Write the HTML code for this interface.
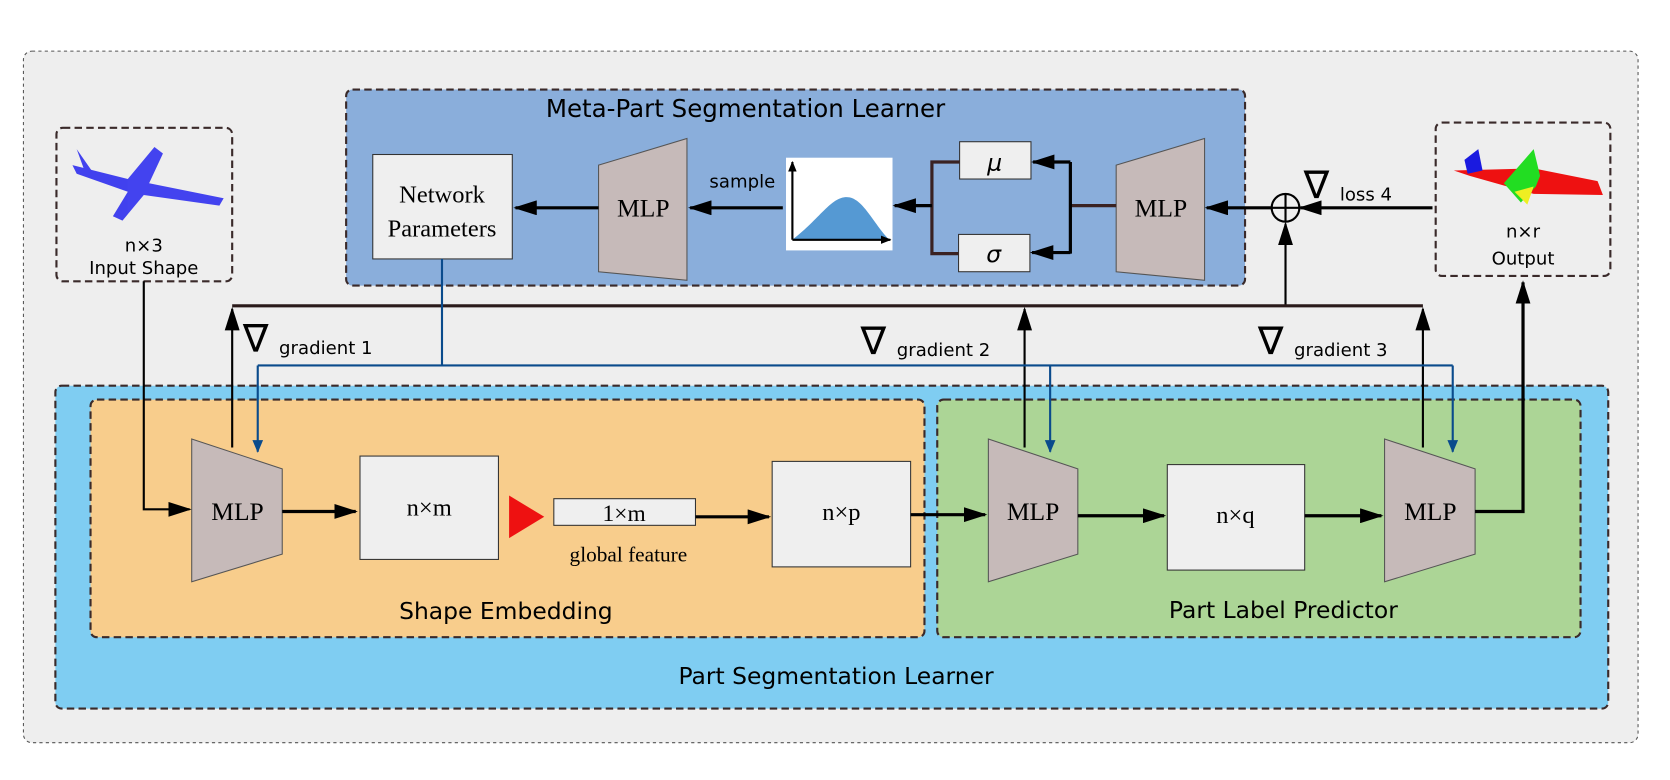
<!DOCTYPE html>
<html><head><meta charset="utf-8"><style>
html,body{margin:0;padding:0;background:#fff;width:1670px;height:780px;overflow:hidden}
svg text{font-family:"DejaVu Sans","Liberation Sans",sans-serif}
.serif{font-family:"Liberation Serif",serif}
</style></head><body>
<svg width="1670" height="780" viewBox="0 0 1568 732" preserveAspectRatio="none" xmlns="http://www.w3.org/2000/svg">
<defs>
<marker id="ab" markerWidth="10" markerHeight="8" refX="9" refY="4" orient="auto" markerUnits="userSpaceOnUse"><path d="M0,0 L10,4 L0,8 z" fill="#000"/></marker>
<marker id="ab2" markerWidth="22" markerHeight="14" refX="20" refY="7" orient="auto" markerUnits="userSpaceOnUse"><path d="M0,0 L22,7 L0,14 z" fill="#000"/></marker>
<marker id="abl" markerWidth="12" markerHeight="18" refX="11" refY="5" orient="auto" markerUnits="userSpaceOnUse"><path d="M0,0 L12,5 L0,10 z" fill="#0a4b8c"/></marker>
</defs>
<rect x="22" y="48" width="1516" height="649" rx="8" fill="#eeeeee" stroke="#555" stroke-width="1" stroke-dasharray="3,3"/>
<!-- meta box -->
<rect x="325" y="84" width="844" height="184" rx="6" fill="#8aaedb" stroke="#3a2a2a" stroke-width="2" stroke-dasharray="7,4"/>
<text x="700" y="110" font-size="23" text-anchor="middle">Meta-Part Segmentation Learner</text>
<rect x="350" y="145" width="131" height="98" fill="#efefef" stroke="#333"/>
<text class="serif" x="415" y="190" font-size="23" text-anchor="middle">Network</text>
<text class="serif" x="415" y="222" font-size="23" text-anchor="middle">Parameters</text>
<polygon points="562,155 645,130 645,263 562,255" fill="#c6bab9" stroke="#555"/>
<text class="serif" x="604" y="203" font-size="24" text-anchor="middle">MLP</text>
<polygon points="1048,155 1131,130 1131,263 1048,255" fill="#c6bab9" stroke="#555"/>
<text class="serif" x="1090" y="203" font-size="24" text-anchor="middle">MLP</text>
<rect x="738" y="148" width="100" height="87" fill="#fff"/>
<path d="M744,225 C770,205 780,185 795,185 C810,185 820,210 835,225 Z" fill="#5599d3"/>
<line x1="744" y1="225" x2="744" y2="152" stroke="#000" stroke-width="2" marker-end="url(#ab)"/>
<line x1="744" y1="225" x2="836" y2="225" stroke="#000" stroke-width="2" marker-end="url(#ab)"/>
<text x="697" y="176" font-size="17" text-anchor="middle">sample</text>
<rect x="901" y="133" width="67" height="35" fill="#efefef" stroke="#333"/>
<text x="934" y="160" font-size="22" font-style="italic" text-anchor="middle">μ</text>
<rect x="900" y="220" width="67" height="35" fill="#efefef" stroke="#333"/>
<text x="933" y="246" font-size="22" font-style="italic" text-anchor="middle">σ</text>
<path d="M901,152 H875 V238 H900" fill="none" stroke="#3a2222" stroke-width="3"/>
<line x1="875" y1="193" x2="840" y2="193" stroke="#000" stroke-width="3" marker-end="url(#ab2)"/>
<path d="M1048,193 H1005" stroke="#3a2222" stroke-width="3"/>
<path d="M1005,238 V152" stroke="#000" stroke-width="3"/>
<line x1="1005" y1="152" x2="970" y2="152" stroke="#000" stroke-width="3" marker-end="url(#ab2)"/>
<line x1="1005" y1="237" x2="969" y2="237" stroke="#000" stroke-width="3" marker-end="url(#ab2)"/>
<line x1="735" y1="195" x2="648" y2="195" stroke="#000" stroke-width="3" marker-end="url(#ab2)"/>
<line x1="562" y1="195" x2="484" y2="195" stroke="#000" stroke-width="3" marker-end="url(#ab2)"/>
<circle cx="1207" cy="195" r="13" fill="none" stroke="#000" stroke-width="2"/>
<line x1="1194" y1="195" x2="1220" y2="195" stroke="#000" stroke-width="2"/>
<line x1="1207" y1="182" x2="1207" y2="208" stroke="#000" stroke-width="2"/>
<line x1="1345" y1="195" x2="1221" y2="195" stroke="#000" stroke-width="3" marker-end="url(#ab2)"/>
<line x1="1194" y1="195" x2="1133" y2="195" stroke="#000" stroke-width="3" marker-end="url(#ab2)"/>
<line x1="1207" y1="287" x2="1207" y2="210" stroke="#000" stroke-width="2" marker-end="url(#ab2)"/>
<!-- input / output -->
<rect x="53" y="120" width="165" height="144" rx="6" fill="#eeeeee" stroke="#3a2a2a" stroke-width="2" stroke-dasharray="7,4"/>
<g fill="#2424ee" opacity="0.85">
<path d="M68,155 L120,168 L145,138 L153,144 L140,172 L210,186 L206,193 L135,183 L115,207 L106,203 L120,180 L72,163 Z"/>
<path d="M72,140 L86,160 L80,162 Z"/>
</g>
<text x="135" y="236" font-size="17" text-anchor="middle">n×3</text>
<text x="135" y="257" font-size="17" text-anchor="middle">Input Shape</text>
<rect x="1348" y="115" width="164" height="144" rx="6" fill="#eeeeee" stroke="#3a2a2a" stroke-width="2" stroke-dasharray="7,4"/>
<path d="M1365,160 L1440,158 L1500,170 L1505,183 L1440,182 L1380,165 Z" fill="#ee1111"/>
<path d="M1375,150 L1388,140 L1392,160 L1378,163 Z" fill="#1a1ae0"/>
<path d="M1440,140 L1446,165 L1442,175 L1428,190 L1412,172 Z" fill="#22dd22"/>
<path d="M1422,180 L1440,175 L1434,192 Z" fill="#eeee22"/>
<text x="1430" y="223" font-size="17" text-anchor="middle">n×r</text>
<text x="1430" y="248" font-size="17" text-anchor="middle">Output</text>
<!-- part seg box -->
<rect x="52" y="362" width="1458" height="303" rx="6" fill="#7fcdf2" stroke="#3a2a2a" stroke-width="2" stroke-dasharray="7,4"/>
<text x="785" y="642" font-size="22" text-anchor="middle">Part Segmentation Learner</text>
<rect x="85" y="375" width="783" height="223" rx="6" fill="#f8cd8c" stroke="#3a2a2a" stroke-width="2" stroke-dasharray="7,4"/>
<text x="475" y="581" font-size="22" text-anchor="middle">Shape Embedding</text>
<rect x="880" y="375" width="604" height="223" rx="6" fill="#acd596" stroke="#3a2a2a" stroke-width="2" stroke-dasharray="7,4"/>
<text x="1205" y="580" font-size="22" text-anchor="middle">Part Label Predictor</text>
<!-- bottom MLPs -->
<g fill="#c6bab9" stroke="#555">
<polygon points="180,412 265,440 265,520 180,546"/>
<polygon points="928,412 1012,440 1012,520 928,546"/>
<polygon points="1300,412 1385,440 1385,520 1300,546"/>
</g>
<text class="serif" x="223" y="488" font-size="24" text-anchor="middle">MLP</text>
<text class="serif" x="970" y="488" font-size="24" text-anchor="middle">MLP</text>
<text class="serif" x="1343" y="488" font-size="24" text-anchor="middle">MLP</text>
<rect x="338" y="428" width="130" height="97" fill="#efefef" stroke="#333"/>
<text class="serif" x="403" y="484" font-size="23" text-anchor="middle">n×m</text>
<polygon points="478,465 511,485 478,505" fill="#ee1111"/>
<rect x="520" y="468" width="133" height="25" fill="#efefef" stroke="#333"/>
<text class="serif" x="586" y="489" font-size="22" text-anchor="middle">1×m</text>
<text class="serif" x="590" y="527" font-size="20" text-anchor="middle">global feature</text>
<rect x="725" y="433" width="130" height="99" fill="#efefef" stroke="#333"/>
<text class="serif" x="790" y="488" font-size="23" text-anchor="middle">n×p</text>
<rect x="1096" y="436" width="129" height="99" fill="#efefef" stroke="#333"/>
<text class="serif" x="1160" y="491" font-size="23" text-anchor="middle">n×q</text>
<!-- horizontal arrows bottom -->
<g stroke="#000" stroke-width="3" fill="none">
<line x1="265" y1="480" x2="334" y2="480" marker-end="url(#ab2)"/>
<line x1="653" y1="485" x2="722" y2="485" marker-end="url(#ab2)"/>
<line x1="855" y1="483" x2="925" y2="483" marker-end="url(#ab2)"/>
<line x1="1012" y1="484" x2="1093" y2="484" marker-end="url(#ab2)"/>
<line x1="1225" y1="484" x2="1297" y2="484" marker-end="url(#ab2)"/>
<path d="M1385,480 H1430 V265" marker-end="url(#ab2)"/>
</g>
<path d="M135,264 V478 H178" fill="none" stroke="#000" stroke-width="2" marker-end="url(#ab2)"/>
<!-- gradient lines -->
<line x1="218" y1="287" x2="1336" y2="287" stroke="#2a1a1a" stroke-width="3"/>
<g stroke="#000" stroke-width="2">
<line x1="218" y1="420" x2="218" y2="290" marker-end="url(#ab2)"/>
<line x1="962" y1="420" x2="962" y2="290" marker-end="url(#ab2)"/>
<line x1="1336" y1="420" x2="1336" y2="290" marker-end="url(#ab2)"/>
</g>
<g font-size="36"><text x="228" y="330">∇</text><text x="808" y="332">∇</text><text x="1181" y="332">∇</text><text x="1224" y="186">∇</text></g>
<g font-size="17"><text x="262" y="332">gradient 1</text><text x="842" y="334">gradient 2</text><text x="1215" y="334">gradient 3</text><text x="1258" y="188">loss 4</text></g>
<!-- blue lines -->
<g stroke="#0a4b8c" stroke-width="2" fill="none">
<path d="M415,243 V343"/>
<path d="M242,343 H1364"/>
<line x1="242" y1="343" x2="242" y2="424" marker-end="url(#abl)"/>
<line x1="986" y1="343" x2="986" y2="424" marker-end="url(#abl)"/>
<line x1="1364" y1="343" x2="1364" y2="424" marker-end="url(#abl)"/>
</g>
</svg>
</body></html>
